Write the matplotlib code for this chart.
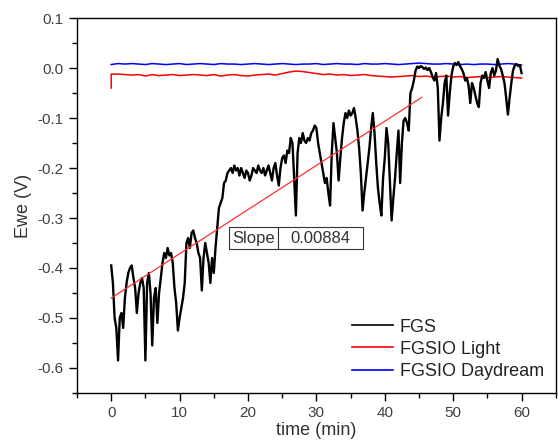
import numpy as np
import matplotlib
matplotlib.use("Agg")
import matplotlib.pyplot as plt
from matplotlib.ticker import MultipleLocator

plt.rcParams['font.family'] = ['Liberation Sans', 'DejaVu Sans']

# FGS potential (V), one reading every 0.25 min from t = 0
fgs_step = 0.25
fgs = [
    -0.395, -0.43, -0.50, -0.52, -0.585, -0.50, -0.49, -0.52, -0.46, -0.43,
    -0.41, -0.40, -0.395, -0.42, -0.44, -0.49, -0.45, -0.43, -0.42, -0.44,
    -0.585, -0.43, -0.41, -0.45, -0.555, -0.46, -0.44, -0.51, -0.45, -0.42,
    -0.39, -0.37, -0.38, -0.36, -0.375, -0.37, -0.39, -0.44, -0.47, -0.525,
    -0.50, -0.48, -0.46, -0.43, -0.35, -0.34, -0.36, -0.33, -0.325, -0.34,
    -0.35, -0.37, -0.38, -0.445, -0.38, -0.35, -0.37, -0.39, -0.43, -0.38,
    -0.41, -0.36, -0.32, -0.28, -0.27, -0.26, -0.23, -0.225, -0.21, -0.205,
    -0.20, -0.21, -0.195, -0.205, -0.20, -0.215, -0.20, -0.21, -0.22, -0.205,
    -0.21, -0.225, -0.215, -0.20, -0.205, -0.21, -0.195, -0.205, -0.21, -0.20,
    -0.215, -0.205, -0.195, -0.21, -0.225, -0.20, -0.19, -0.215, -0.235, -0.20,
    -0.18, -0.175, -0.19, -0.165, -0.17, -0.14, -0.15, -0.22, -0.295, -0.17,
    -0.14, -0.15, -0.13, -0.145, -0.15, -0.14, -0.145, -0.13, -0.125, -0.115,
    -0.12, -0.15, -0.17, -0.19, -0.21, -0.23, -0.22, -0.25, -0.275, -0.17,
    -0.11, -0.14, -0.17, -0.225, -0.18, -0.14, -0.11, -0.09, -0.10, -0.085,
    -0.095, -0.09, -0.08, -0.10, -0.125, -0.16, -0.21, -0.285, -0.25, -0.22,
    -0.19, -0.16, -0.12, -0.09, -0.13, -0.19, -0.24, -0.27, -0.295, -0.22,
    -0.18, -0.12, -0.15, -0.23, -0.305, -0.26, -0.22, -0.17, -0.125, -0.23,
    -0.15, -0.105, -0.10, -0.11, -0.125, -0.05, -0.04, -0.025, -0.005, 0.003,
    0.0, 0.004, 0.002, -0.002, 0.001, -0.004, 0.0, -0.008, -0.018, -0.025,
    -0.01, -0.04, -0.145, -0.10, -0.07, -0.03, -0.015, -0.095, -0.05, -0.015,
    0.003, 0.01, 0.006, 0.012, 0.004, -0.002, -0.01, -0.025, -0.02, -0.035,
    -0.07, -0.03, -0.04, -0.055, -0.07, -0.078, -0.03, -0.015, -0.02, -0.008,
    -0.025, -0.04, -0.01, 0.0, -0.015, -0.005, 0.018, 0.005, -0.002, -0.015,
    -0.03, -0.06, -0.093, -0.06, -0.03, -0.005, 0.005, 0.008, 0.004, 0.006,
    -0.01,
]

# FGSIO curves, one reading per minute (light curve has an initial spike)
light_t0 = [0.0]
light_v0 = [-0.04]
light = [
    -0.012, -0.012, -0.013, -0.014, -0.013, -0.016, -0.013, -0.015, -0.014, -0.013,
    -0.015, -0.014, -0.013, -0.014, -0.015, -0.013, -0.016, -0.014, -0.013, -0.015,
    -0.016, -0.014, -0.013, -0.012, -0.014, -0.011, -0.008, -0.006, -0.007, -0.009,
    -0.011, -0.013, -0.012, -0.014, -0.013, -0.015, -0.014, -0.013, -0.015, -0.016,
    -0.017, -0.018, -0.017, -0.016, -0.015, -0.017, -0.016, -0.018, -0.017, -0.016,
    -0.018, -0.017, -0.019, -0.018, -0.017, -0.019, -0.018, -0.017, -0.018, -0.019,
    -0.020,
]
daydream = [
    0.007, 0.009, 0.008, 0.009, 0.008, 0.007, 0.009, 0.008, 0.007, 0.008,
    0.009, 0.007, 0.008, 0.009, 0.008, 0.007, 0.009, 0.008, 0.008, 0.007,
    0.008, 0.009, 0.008, 0.007, 0.008, 0.009, 0.008, 0.007, 0.008, 0.008,
    0.009, 0.007, 0.008, 0.009, 0.008, 0.008, 0.007, 0.009, 0.008, 0.008,
    0.009, 0.008, 0.007, 0.008, 0.009, 0.010, 0.009, 0.008, 0.008, 0.009,
    0.008, 0.007, 0.008, 0.007, 0.008, 0.008, 0.007, 0.008, 0.009, 0.008,
    0.006,
]

# linear fit on FGS
fit_t = [0.0, 45.4]
fit_v = [-0.46, -0.0586]
slope_text = "0.00884"

fig = plt.figure(figsize=(5.58, 4.41), dpi=100)
ax = fig.add_axes([0.138, 0.109, 0.858, 0.850])

t_fgs = np.arange(len(fgs)) * fgs_step
t_min = np.arange(len(light))

ax.plot(t_fgs, fgs, color='black', lw=1.7, label='FGS', zorder=3)
ax.plot(light_t0 + list(t_min), light_v0 + light, color='red', lw=1.1,
        label='FGSIO Light', zorder=2)
ax.plot(t_min, daydream, color='blue', lw=1.1, label='FGSIO Daydream', zorder=2)
ax.plot(fit_t, fit_v, color='#ff3030', lw=0.9, zorder=4)

ax.set_xlim(-5, 65)
ax.set_ylim(-0.65, 0.1)
ax.xaxis.set_major_locator(MultipleLocator(10))
ax.xaxis.set_minor_locator(MultipleLocator(5))
ax.yaxis.set_major_locator(MultipleLocator(0.1))
ax.yaxis.set_minor_locator(MultipleLocator(0.05))
ax.yaxis.set_major_formatter(plt.FuncFormatter(lambda v, p: f"{v:.1f}"))
ax.tick_params(which='major', direction='out', length=6, width=1,
               labelsize=11, labelcolor='#404040')
ax.tick_params(which='minor', direction='out', length=3.5, width=1)
for s in ax.spines.values():
    s.set_linewidth(1.0)

ax.set_xlabel('time (min)', fontsize=13, color='#333333', labelpad=1)
ax.set_ylabel('Ewe (V)', fontsize=13, color='#333333', labelpad=4)

leg = ax.legend(loc='upper left', bbox_to_anchor=(0.574, 0.198), frameon=False,
                fontsize=13, handlelength=2.3, handletextpad=0.35,
                labelspacing=0.28, borderpad=0, borderaxespad=0)
for txt in leg.get_texts():
    txt.set_color('#222222')
for ln in leg.get_lines():
    ln.set_linewidth(1.2)

tbl = ax.table(cellText=[['Slope', slope_text]], colWidths=[0.103, 0.177],
               cellLoc='center', bbox=[0.317, 0.384, 0.28, 0.058])
tbl.auto_set_font_size(False)
tbl.set_fontsize(12)
for (r, c), cell in tbl.get_celld().items():
    cell.set_edgecolor('#333333')
    cell.set_linewidth(0.8)
    cell.get_text().set_color('#333333')
tbl.set_zorder(5)

fig.savefig('out.png', dpi=100)
